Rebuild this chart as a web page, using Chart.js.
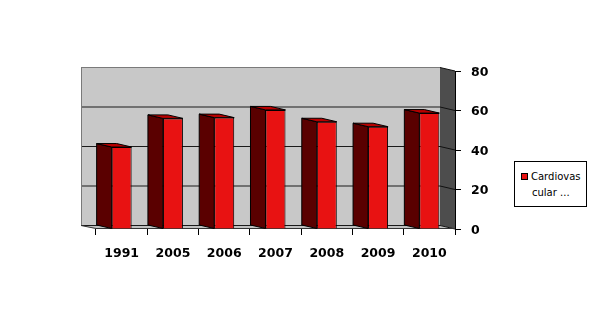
<!DOCTYPE html>
<html>
<head>
<meta charset="utf-8">
<script src="https://cdn.jsdelivr.net/npm/chart.js@4.4.1/dist/chart.umd.min.js"></script>
<style>
  html, body { margin: 0; padding: 0; background: #ffffff; }
  #wrap { position: relative; width: 604px; height: 336px; }
  #legend { position: absolute; left: 514px; top: 161px; width: 71px; height: 44px;
    border: 1px solid #000; background: #fff; font-family: "DejaVu Sans", sans-serif;
    font-size: 10px; color: #000; }
  #legend .mk { position: absolute; left: 6px; top: 11px; width: 5px; height: 5px;
    background: #e81212; border: 1px solid #000; }
  #legend .l1 { position: absolute; left: 16px; top: 9px; white-space: nowrap; }
  #legend .l2 { position: absolute; left: 17px; top: 25px; white-space: nowrap; }
</style>
</head>
<body>
<div id="wrap">
  <canvas id="c" width="604" height="336"></canvas>
  <div id="legend"><div class="mk"></div><div class="l1"></div><div class="l2"></div></div>
</div>
<script>
const categories = ['1991', '2005', '2006', '2007', '2008', '2009', '2010'];
const values = [41.5, 56.0, 56.4, 60.3, 54.3, 51.8, 58.7];
const seriesName = 'Cardiovascular ...';
const legendLines = ['Cardiovas', 'cular ...'];
const yTicks = [0, 20, 40, 60, 80];

document.querySelector('#legend .l1').textContent = legendLines[0];
document.querySelector('#legend .l2').textContent = legendLines[1];

const DX = -15, DY = -3.5;

function poly(ctx, pts, fill, stroke) {
  ctx.beginPath();
  ctx.moveTo(pts[0][0], pts[0][1]);
  for (let i = 1; i < pts.length; i++) ctx.lineTo(pts[i][0], pts[i][1]);
  ctx.closePath();
  if (fill) { ctx.fillStyle = fill; ctx.fill(); }
  if (stroke) { ctx.strokeStyle = stroke; ctx.lineWidth = 1; ctx.stroke(); }
}

const walls = {
  id: 'walls',
  beforeDatasetsDraw(chart) {
    const ctx = chart.ctx, a = chart.chartArea, y = chart.scales.y;
    const L = a.left + DX, R = a.right + DX, T = a.top + DY, B = a.bottom + DY;
    ctx.save();
    ctx.fillStyle = '#c8c8c8';
    ctx.fillRect(L, T, R - L, B - T);
    poly(ctx, [[R, T], [a.right, a.top], [a.right, a.bottom], [R, B]], '#4d4d4d', null);
    poly(ctx, [[L, B], [R, B], [a.right, a.bottom], [a.left, a.bottom]], '#c0c0c0', null);
    yTicks.forEach(v => {
      const yf = y.getPixelForValue(v);
      const yb = yf + DY;
      ctx.beginPath();
      ctx.strokeStyle = (v === 80) ? '#7a7a7a' : '#1a1a1a';
      ctx.lineWidth = 1;
      ctx.moveTo(L, yb); ctx.lineTo(R, yb);
      ctx.stroke();
      ctx.beginPath();
      ctx.strokeStyle = '#111';
      ctx.moveTo(R, yb); ctx.lineTo(a.right, yf);
      ctx.stroke();
    });
    ctx.beginPath();
    ctx.strokeStyle = '#7a7a7a';
    ctx.moveTo(L + 0.5, T); ctx.lineTo(L + 0.5, B);
    ctx.stroke();
    ctx.beginPath();
    ctx.strokeStyle = '#333';
    ctx.moveTo(L, B); ctx.lineTo(a.left, a.bottom - 0.5); ctx.lineTo(a.right, a.bottom - 0.5);
    ctx.stroke();
    ctx.restore();
  },
  afterDatasetsDraw(chart) {
    const ctx = chart.ctx;
    const meta = chart.getDatasetMeta(0);
    ctx.save();
    ctx.lineJoin = 'miter';
    meta.data.forEach(bar => {
      const p = bar.getProps(['x', 'y', 'base', 'width'], true);
      const l = p.x - p.width / 2, r = p.x + p.width / 2;
      poly(ctx, [[l, p.y], [l + DX, p.y + DY], [l + DX, p.base + DY], [l, p.base]], '#5a0000', '#000');
      poly(ctx, [[l, p.y], [r, p.y], [r + DX, p.y + DY], [l + DX, p.y + DY]], '#b80000', '#000');
    });
    ctx.restore();
  }
};

const font = { family: '"DejaVu Sans", sans-serif', size: 12.5, weight: 'bold' };

new Chart(document.getElementById('c'), {
  type: 'bar',
  data: {
    labels: categories,
    datasets: [{
      label: seriesName,
      data: values,
      backgroundColor: '#e81212',
      borderColor: '#000',
      borderWidth: 1,
      barPercentage: 0.39,
      categoryPercentage: 1.0
    }]
  },
  options: {
    responsive: false,
    devicePixelRatio: 1,
    animation: false,
    layout: { padding: { left: 96, top: 71, right: 0, bottom: 0 } },
    plugins: { legend: { display: false }, tooltip: { enabled: false } },
    scales: {
      x: {
        offset: true,
        grid: { display: true, drawOnChartArea: false, drawTicks: true, tickLength: 6, color: '#000', offset: true },
        border: { display: false },
        ticks: { color: '#000', font: font, padding: 11, maxRotation: 0 },
        afterFit(s) { s.height = 107; }
      },
      y: {
        position: 'right',
        min: 0, max: 80,
        afterBuildTicks(s) { s.ticks = yTicks.map(v => ({ value: v })); },
        grid: { display: true, drawOnChartArea: false, drawTicks: true, tickLength: 6, color: '#000' },
        border: { display: true, color: '#000', width: 1 },
        ticks: { color: '#000', font: font, padding: 10, labelOffset: 1.5 },
        afterFit(s) { s.width = 149; }
      }
    }
  },
  plugins: [walls]
});
</script>
</body>
</html>
